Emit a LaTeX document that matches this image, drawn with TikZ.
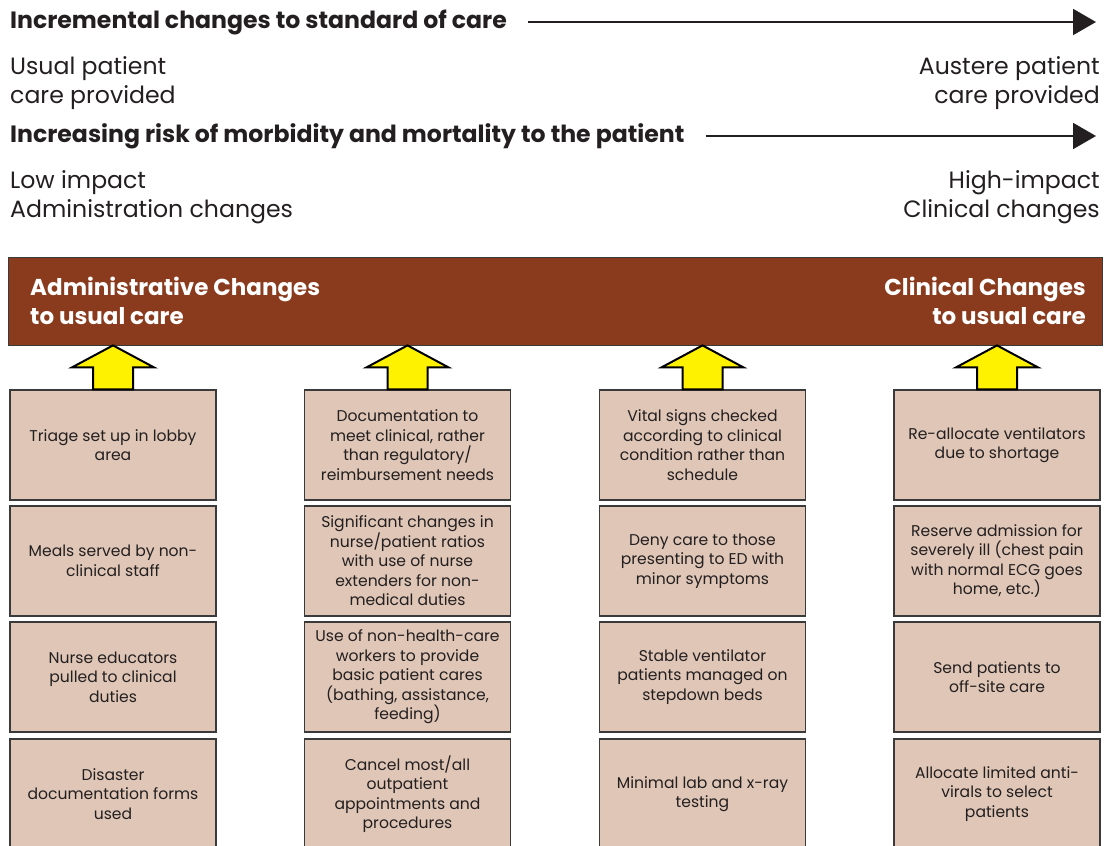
\documentclass[tikz,border=0pt]{standalone}
\usepackage{fontspec}
\setmainfont{Poppins}
\usepackage{xcolor}
\usepackage{tikz}
\usetikzlibrary{arrows.meta,positioning,calc}

\definecolor{barbrown}{HTML}{8A3B1E}
\definecolor{boxtan}{HTML}{DFC6B6}
\definecolor{boxline}{HTML}{3A3A3A}
\definecolor{arrowyel}{HTML}{FFF200}
\definecolor{inkgray}{HTML}{231F20}

\tikzset{
  heading/.style={font=\fontsize{23.6}{26}\selectfont\bfseries, text=inkgray, anchor=west, inner sep=0pt},
  scalelabel/.style={font=\fontsize{23.6}{29}\selectfont, text=inkgray, inner sep=0pt},
  careitem/.style={draw=boxline, line width=1.2pt, fill=boxtan, minimum width=206pt, minimum height=110pt,
    align=center, inner sep=0pt, font=\fontsize{15.6}{19.5}\selectfont, text=inkgray},
  bartext/.style={font=\fontsize{23}{29}\selectfont\bfseries, text=white, inner sep=0pt},
  scalearrow/.style={line width=2pt, draw=inkgray, -{Triangle[length=23pt,width=26pt]}},
  liftarrow/.style={draw=black, line width=2pt, fill=arrowyel, line join=miter},
}

% block arrow from a box up to the bar
\newcommand{\liftfrom}[1]{%
  \draw[liftarrow] ($(#1.north)+(-20,0)$) -- ++(0,-22) -- ++(-21,0) -- ($(#1.north)+(0,-44)$)
    -- ($(#1.north)+(41,-22)$) -- ++(-21,0) -- ++(0,22) -- cycle;}

\begin{document}
\begin{tikzpicture}[x=1pt,y=-1pt]
	\useasboundingbox (0,0) rectangle (1106,846);
	%
	\node[heading] (hdcare) at (10,22) {Incremental changes to standard of care};
	\coordinate (tipcare) at (1096,22);
	\draw[scalearrow] ([xshift=21pt]hdcare.east) -- (tipcare);
	\node[scalelabel, anchor=west, align=left] (usual) at (10,83) {Usual patient\\care provided};
	\node[scalelabel, anchor=east, align=right] (austere) at (1100,83) {Austere patient\\care provided};
	%
	\node[heading] (hdrisk) at (10,136) {Increasing risk of morbidity and mortality to the patient};
	\coordinate (tiprisk) at (1096,136);
	\draw[scalearrow] ([xshift=21pt]hdrisk.east) -- (tiprisk);
	\node[scalelabel, anchor=west, align=left] (lowimp) at (10,197.5) {Low impact\\Administration changes};
	\node[scalelabel, anchor=east, align=right] (highimp) at (1100,197.5) {High-impact\\Clinical changes};
	%
	\node[draw=boxline, line width=1pt, fill=barbrown, minimum width=1094pt, minimum height=88pt, inner sep=0pt] (bar) at (555,301) {};
	\node[bartext, anchor=west, align=left] (admin) at (30,301) {Administrative Changes\\to usual care};
	\node[bartext, anchor=east, align=right] (clin) at (1086,301) {Clinical Changes\\to usual care};
	%
	\node[careitem] (a1) at (113,445) {Triage set up in lobby\\area};
	\node[careitem] (a2) at (113,561) {Meals served by non-\\clinical staff};
	\node[careitem] (a3) at (113,677) {Nurse educators\\pulled to clinical\\duties};
	\node[careitem] (a4) at (113,794) {Disaster\\documentation forms\\used};
	%
	\node[careitem] (b1) at (407.5,445) {Documentation to\\meet clinical, rather\\than regulatory/\\reimbursement needs};
	\node[careitem] (b2) at (407.5,561) {Significant changes in\\nurse/patient ratios\\with use of nurse\\extenders for non-\\medical duties};
	\node[careitem] (b3) at (407.5,677) {Use of non-health-care\\workers to provide\\basic patient cares\\(bathing, assistance,\\feeding)};
	\node[careitem] (b4) at (407.5,794) {Cancel most/all\\outpatient\\appointments and\\procedures};
	%
	\node[careitem] (c1) at (702.5,445) {Vital signs checked\\according to clinical\\condition rather than\\schedule};
	\node[careitem] (c2) at (702.5,561) {Deny care to those\\presenting to ED with\\minor symptoms};
	\node[careitem] (c3) at (702.5,677) {Stable ventilator\\patients managed on\\stepdown beds};
	\node[careitem] (c4) at (702.5,794) {Minimal lab and x-ray\\testing};
	%
	\node[careitem] (d1) at (997,445) {Re-allocate ventilators\\due to shortage};
	\node[careitem] (d2) at (997,561) {Reserve admission for\\severely ill (chest pain\\with normal ECG goes\\home, etc.)};
	\node[careitem] (d3) at (997,677) {Send patients to\\off-site care};
	\node[careitem] (d4) at (997,794) {Allocate limited anti-\\virals to select\\patients};
	%
	\liftfrom{a1}
	\liftfrom{b1}
	\liftfrom{c1}
	\liftfrom{d1}
\end{tikzpicture}
\end{document}
